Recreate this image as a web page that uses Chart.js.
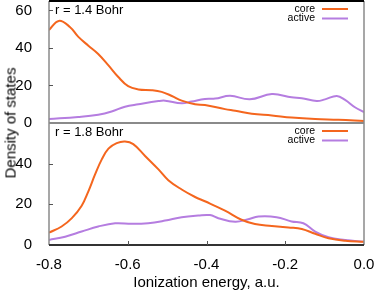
<!DOCTYPE html>
<html>
<head>
<meta charset="utf-8">
<script src="https://cdn.jsdelivr.net/npm/chart.js@4"></script>
<style>
  html, body { margin: 0; padding: 0; background: #fff; }
  #wrap { position: relative; width: 374px; height: 292px; overflow: hidden; }
  #cTop { position: absolute; left: 0; top: 0; z-index: 2; background: transparent; }
  #cBot { position: absolute; left: 0; top: 122px; z-index: 1; background: transparent; }
  #ylab { position: absolute; left: 10px; top: 123px; transform: translate(-50%, -50%) rotate(-90deg);
          font: 15px "Liberation Sans", Arial, sans-serif; white-space: nowrap; color: #000; z-index: 3; }
</style>
</head>
<body>
<div id="wrap">
  <canvas id="cBot" width="374" height="170"></canvas>
  <canvas id="cTop" width="374" height="136"></canvas>
  <div id="ylab">Density of states</div>
</div>
<script>
// r = 1.4 Bohr
const coreX14 = [-0.8, -0.775, -0.747, -0.726, -0.7, -0.675, -0.649, -0.624, -0.599, -0.573, -0.539, -0.514, -0.488, -0.463, -0.429, -0.404, -0.353, -0.327, -0.285, -0.234, -0.184, -0.124, -0.065, 0];
const coreY14 = [49.5, 54.4, 51.2, 46, 41.2, 36.8, 30.7, 24.5, 19.6, 17.9, 17.5, 16.6, 14.4, 11.9, 10, 9.6, 7.4, 6.5, 4.9, 4, 2.9, 2.1, 1.7, 1.0];
const actX14 = [-0.8, -0.726, -0.675, -0.641, -0.607, -0.573, -0.522, -0.505, -0.463, -0.438, -0.404, -0.378, -0.34, -0.29, -0.234, -0.184, -0.158, -0.12, -0.099, -0.069, -0.048, -0.023, 0];
const actY14 = [2.1, 3.2, 4.4, 6.1, 8.7, 10, 11.7, 11.9, 10.5, 11.4, 12.8, 13, 14.5, 12.6, 15.4, 13.7, 13.2, 11.7, 12.6, 14.4, 12.3, 8.4, 5.8];

// r = 1.8 Bohr
const coreX18 = [-0.8, -0.768, -0.742, -0.717, -0.7, -0.683, -0.666, -0.649, -0.628, -0.607, -0.586, -0.556, -0.522, -0.497, -0.463, -0.429, -0.404, -0.353, -0.311, -0.277, -0.234, -0.192, -0.158, -0.124, -0.09, -0.048, 0];
const coreY18 = [6.1, 9.1, 13.2, 19.3, 26.4, 34.7, 42.1, 47.4, 50.1, 50.9, 49.6, 43.8, 37.2, 31.9, 27.3, 23.6, 21.5, 16.9, 12.4, 10.3, 9.4, 8.6, 7.9, 5.5, 3.3, 2.1, 1.6];
const actX18 = [-0.8, -0.759, -0.717, -0.675, -0.632, -0.59, -0.548, -0.505, -0.463, -0.421, -0.391, -0.37, -0.327, -0.294, -0.268, -0.222, -0.184, -0.154, -0.124, -0.09, -0.048, 0];
const actY18 = [2.5, 4.1, 6.6, 9.1, 10.7, 10.4, 10.7, 12, 13.7, 14.5, 14.7, 13.2, 11.4, 12.7, 14, 13.7, 11.6, 10.7, 6.6, 3.8, 2.5, 1.6];

const xTicks = [-0.8, -0.6, -0.4, -0.2, 0.0];
const yTicks = [0, 20, 40, 60];

const FONT = '"Liberation Sans", Arial, sans-serif';
const ORANGE = '#f4661e';
const PURPLE = '#b57de0';

const pts = (xs, ys) => xs.map((x, i) => ({ x: x, y: ys[i] }));

const panelDeco = {
    id: 'panelDeco',
    afterDraw(chart, args, opts) {
        const { ctx, chartArea: a } = chart;
        ctx.save();
        // frame
        ctx.strokeStyle = '#8a8a8a';
        ctx.lineWidth = 1.5;
        ctx.beginPath();
        ctx.moveTo(a.left, a.top); ctx.lineTo(a.left, a.bottom);
        ctx.moveTo(a.right, a.top); ctx.lineTo(a.right, a.bottom);
        ctx.stroke();
        ctx.lineWidth = 2;
        ctx.strokeStyle = opts.topColor;
        ctx.beginPath(); ctx.moveTo(a.left, a.top); ctx.lineTo(a.right, a.top); ctx.stroke();
        ctx.strokeStyle = opts.bottomColor;
        ctx.beginPath(); ctx.moveTo(a.left, a.bottom); ctx.lineTo(a.right, a.bottom); ctx.stroke();
        // inward tick marks
        ctx.strokeStyle = '#555';
        ctx.lineWidth = 1;
        const ys = chart.scales.y;
        ys.ticks.forEach(t => {
            if (t.value === 0) return;
            const py = Math.round(ys.getPixelForValue(t.value)) + 0.5;
            ctx.beginPath(); ctx.moveTo(a.left, py); ctx.lineTo(a.left + 4, py); ctx.stroke();
        });
        if (opts.xTicks) {
            const xs = chart.scales.x;
            xTicks.slice(1, -1).forEach(v => {
                const px = Math.round(xs.getPixelForValue(v)) + 0.5;
                ctx.beginPath(); ctx.moveTo(px, a.bottom); ctx.lineTo(px, a.bottom - 4); ctx.stroke();
            });
        }
        // panel label
        ctx.fillStyle = '#000';
        ctx.font = '13px ' + FONT;
        ctx.textAlign = 'left';
        ctx.textBaseline = 'middle';
        ctx.fillText(opts.label, a.left + 6, a.top + 9);
        // legend
        ctx.font = '10.5px ' + FONT;
        ctx.textAlign = 'right';
        chart.data.datasets.forEach((ds, i) => {
            const ly = a.top + 8 + i * 9.5;
            ctx.fillStyle = '#000';
            ctx.fillText(ds.label, a.right - 49, ly);
            ctx.strokeStyle = ds.borderColor;
            ctx.lineWidth = 2;
            ctx.beginPath(); ctx.moveTo(a.right - 42, ly); ctx.lineTo(a.right - 16, ly); ctx.stroke();
        });
        ctx.restore();
    }
};

function makeChart(id, cx, cy, ax, ay, yMax, label, showX) {
    return new Chart(document.getElementById(id), {
        type: 'line',
        data: {
            datasets: [
                { label: 'core', data: pts(cx, cy), borderColor: ORANGE, borderWidth: 2, pointRadius: 0, tension: 0.4, fill: false },
                { label: 'active', data: pts(ax, ay), borderColor: PURPLE, borderWidth: 2, pointRadius: 0, tension: 0.4, fill: false }
            ]
        },
        options: {
            responsive: false,
            animation: false,
            layout: { padding: { top: 1, right: 10, bottom: showX ? 0 : 13, left: 0 } },
            plugins: {
                legend: { display: false },
                tooltip: { enabled: false },
                panelDeco: { label: label, xTicks: showX, topColor: showX ? '#8a8a8a' : '#000', bottomColor: showX ? '#333' : '#8a8a8a' }
            },
            scales: {
                x: {
                    type: 'linear', min: -0.8, max: 0,
                    display: showX,
                    grid: { display: false },
                    border: { display: false },
                    afterBuildTicks: s => { s.ticks = xTicks.map(v => ({ value: v })); },
                    ticks: { padding: 3, color: '#000', font: { family: FONT, size: 15 }, maxRotation: 0, callback: v => v.toFixed(1) },
                    title: { display: showX, text: 'Ionization energy, a.u.', color: '#000', font: { family: FONT, size: 15 }, padding: 0 },
                    afterFit: s => { if (showX) { s.height = 47; s.paddingLeft = 0; s.paddingRight = 0; } }
                },
                y: {
                    min: 0, max: yMax,
                    grid: { display: false },
                    border: { display: false },
                    afterBuildTicks: s => { s.ticks = yTicks.filter(v => v < yMax).map(v => ({ value: v })); },
                    ticks: { padding: 9, color: '#000', autoSkip: false, font: { family: FONT, size: 15 } },
                    afterFit: s => { s.width = 49; s.paddingTop = 0; s.paddingBottom = 0; }
                }
            }
        },
        plugins: [panelDeco]
    });
}

makeChart('cTop', coreX14, coreY14, actX14, actY14, 65, 'r = 1.4 Bohr', false);
makeChart('cBot', coreX18, coreY18, actX18, actY18, 60, 'r = 1.8 Bohr', true);
</script>
</body>
</html>
